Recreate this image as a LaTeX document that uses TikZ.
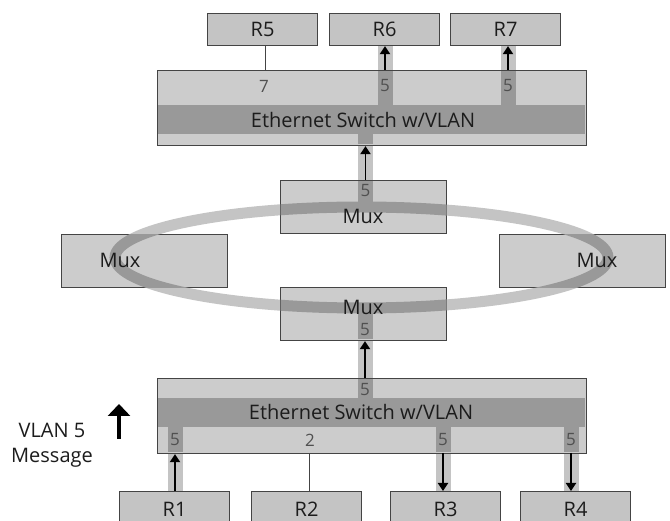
\documentclass[tikz,border=0pt]{standalone}
\usepackage{fontspec}
\setmainfont{Open Sans}
\usetikzlibrary{arrows.meta}
\definecolor{boxfill}{HTML}{CCCCCC}
\definecolor{rfill}{HTML}{C4C4C4}
\definecolor{band}{HTML}{999999}
\definecolor{lane}{HTML}{C4C4C4}
\definecolor{edge}{HTML}{444444}
\definecolor{ink}{HTML}{1C1C1C}
\definecolor{port}{HTML}{505050}

\begin{document}
\begin{tikzpicture}[x=1pt,y=-1pt,
  every node/.style={inner sep=0pt},
  box/.style={draw=edge,line width=1.1pt,fill=boxfill,anchor=north west,text=ink,
    font=\fontsize{20}{24}\selectfont},
  rbox/.style={box,fill=rfill,minimum width=110pt,minimum height=32pt},
  muxbox/.style={box,minimum width=166pt,minimum height=53pt},
  swbox/.style={box,minimum width=429pt,minimum height=75pt},
  lbl/.style={text=ink,font=\fontsize{20}{24}\selectfont},
  portlbl/.style={text=port,font=\fontsize{17}{20}\selectfont},
  arr/.style={draw=black,line width=1.9pt,-{Triangle[width=10pt,length=8pt]}},
  bigarr/.style={draw=black,line width=4pt,-{Triangle[width=22pt,length=12pt]}},
  ringline/.style={line width=11pt},
  wire/.style={draw=edge,line width=1pt}]

\useasboundingbox (0,0) rectangle (670,521);
\clip (0,0) rectangle (670,521);

% ring and lanes, light parts (lie under the boxes)
\def\ringpath{(361.5,257.5) ellipse [x radius=246.5, y radius=50.5]}
\draw[lane,ringline] \ringpath;
\fill[lane] (377.5,45) rectangle (392.5,105);
\fill[lane] (500.5,45) rectangle (515.5,105);
\fill[lane] (358,134) rectangle (373,202);
\fill[lane] (357.5,313.5) rectangle (372.5,398);
\fill[lane] (167.5,427) rectangle (182.5,491);
\fill[lane] (435.5,427) rectangle (450.5,491);
\fill[lane] (563.5,427) rectangle (578.5,491);

% top relays
\node[rbox] (r5) at (207,13) {R5};
\node[rbox] (r6) at (329,13) {R6};
\node[rbox] (r7) at (450,13) {R7};

% top switch
\node[swbox] (tsw) at (157,70) {};
\fill[band] (157.6,105) rectangle (585.4,134);

% ring multiplexers
\node[muxbox] (tmux) at (280,180) {};
\node[muxbox] (lmux) at (61,234) {};
\node[muxbox] (rmux) at (499,234) {};
\node[muxbox] (bmux) at (280,287) {};

% bottom switch
\node[swbox] (bsw) at (157,378) {};
\fill[band] (157.6,398) rectangle (585.4,427);

% bottom relays
\node[rbox,minimum height=36pt] (r1) at (119,491) {R1};
\node[rbox,minimum height=36pt] (r2) at (251,491) {R2};
\node[rbox,minimum height=36pt] (r3) at (390,491) {R3};
\node[rbox,minimum height=36pt] (r4) at (520,491) {R4};

% ring, dark where it crosses a multiplexer
\foreach \m in {tmux,lmux,rmux,bmux}{
  \begin{scope}
    \clip ([shift={(0.6pt,-0.6pt)}]\m.north west) rectangle ([shift={(-0.6pt,0.6pt)}]\m.south east);
    \draw[band,ringline] \ringpath;
  \end{scope}
}

% lanes, dark where they run inside a box
\fill[band] (377.5,70.6) rectangle (392.5,105);
\fill[band] (500.5,70.6) rectangle (515.5,105);
\fill[band] (358,134) rectangle (373,144.4);
\fill[band] (358,180.6) rectangle (373,202);
\fill[band] (357.5,313.5) rectangle (372.5,339.4);
\fill[band] (357.5,378.6) rectangle (372.5,398);
\fill[band] (167.5,427) rectangle (182.5,452.4);
\fill[band] (435.5,427) rectangle (450.5,452.4);
\fill[band] (563.5,427) rectangle (578.5,452.4);

% texts
\node[lbl] (tswlbl) at (363,120) {Ethernet Switch w/VLAN};
\node[lbl] (bswlbl) at (361,412) {Ethernet Switch w/VLAN};
\node[portlbl] (t7) at (264,86) {7};
\node[portlbl] (t5a) at (385,86) {5};
\node[portlbl] (t5b) at (508,86) {5};
\node[portlbl] (m5a) at (365.5,191) {5};
\node[lbl] (tmuxlbl) at (363,216) {Mux};
\node[lbl] (lmuxlbl) at (120,260) {Mux};
\node[lbl] (rmuxlbl) at (597,260) {Mux};
\node[lbl] (bmuxlbl) at (363,307) {Mux};
\node[portlbl] (m5b) at (365,330) {5};
\node[portlbl] (b5up) at (365,390) {5};
\node[portlbl] (b5a) at (175,440) {5};
\node[portlbl] (b2) at (310,440) {2};
\node[portlbl] (b5b) at (443,440) {5};
\node[portlbl] (b5c) at (571,440) {5};
\node[lbl,align=center,font=\fontsize{20}{25}\selectfont] (vlan) at (52,445) {VLAN 5\\Message};

% port points
\coordinate (p5) at (265,70);
\coordinate (p6) at (385,70);
\coordinate (p7) at (508,70);
\coordinate (pt) at (365.5,180);
\coordinate (pb) at (365,378);
\coordinate (q1) at (175,491);
\coordinate (q2) at (309,491);
\coordinate (q3) at (443,453);
\coordinate (q4) at (571,453);

% connectors
\draw[wire] (p5) -- (p5 |- r5.south);
\draw[arr] (p6) -- (p6 |- r6.south);
\draw[arr] (p7) -- (p7 |- r7.south);
\draw[arr] (pt) -- (pt |- tsw.south);
\draw[arr] (pb) -- (pb |- bmux.south);
\draw[arr] (q1) -- (q1 |- bsw.south);
\draw[wire] (q2) -- (q2 |- bsw.south);
\draw[arr] (q3) -- (q3 |- r3.north);
\draw[arr] (q4) -- (q4 |- r4.north);

% legend arrow
\coordinate (vt) at (119,439);
\coordinate (vh) at (119,404);
\draw[bigarr] (vt) -- (vh);
\end{tikzpicture}
\end{document}
